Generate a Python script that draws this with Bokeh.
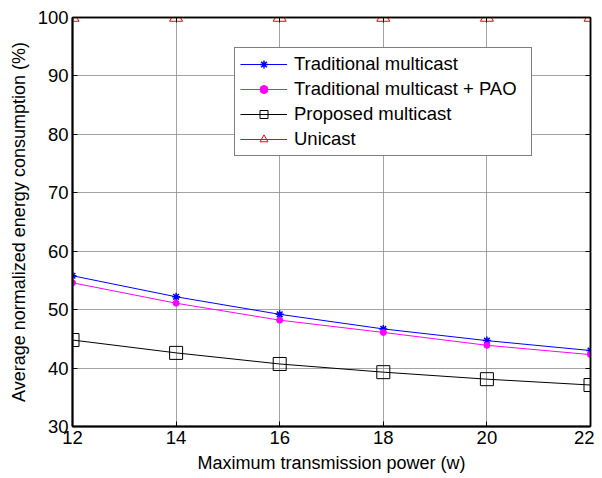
from bokeh.plotting import figure
from bokeh.models import LinearAxis, Legend, LegendItem, Range1d, FixedTicker
from bokeh.embed import file_html
from bokeh.resources import INLINE

power = [12, 14, 16, 18, 20, 22]
traditional = [55.8, 52.2, 49.2, 46.7, 44.7, 43.0]
traditional_pao = [54.6, 51.1, 48.2, 46.1, 43.9, 42.3]
proposed = [44.8, 42.6, 40.7, 39.3, 38.1, 37.1]
unicast = [100, 100, 100, 100, 100, 100]
x_ticks = [12, 14, 16, 18, 20, 22]
y_ticks = [30, 40, 50, 60, 70, 80, 90, 100]

FONT = "Liberation Sans"

p = figure(width=594, height=475, output_backend="svg", toolbar_location=None,
           x_range=Range1d(12, 22), y_range=Range1d(30, 100),
           min_border_left=72, min_border_right=4, min_border_top=17, min_border_bottom=45)
p.outline_line_color = "black"
p.outline_line_width = 1.5
p.background_fill_color = "white"
p.border_fill_color = "white"

for ax in (p.xaxis[0], p.yaxis[0]):
    ax.major_label_text_font = FONT
    ax.major_label_text_font_size = "18.5px"
    ax.major_label_text_color = "black"
    ax.axis_label_text_font = FONT
    ax.axis_label_text_font_size = "18px"
    ax.axis_label_text_font_style = "normal"
    ax.axis_label_text_color = "black"
    ax.major_tick_in = 5
    ax.major_tick_out = 0
    ax.minor_tick_line_color = None
    ax.axis_line_width = 2
    ax.major_tick_line_width = 1
p.xaxis[0].ticker = FixedTicker(ticks=x_ticks)
p.yaxis[0].ticker = FixedTicker(ticks=y_ticks)
p.xaxis[0].axis_label = "Maximum transmission power (w)"
p.yaxis[0].axis_label = "Average normalized energy consumption (%)"
p.xaxis[0].axis_label_standoff = 6
p.yaxis[0].axis_label_standoff = 6
p.xaxis[0].major_label_standoff = 4
p.yaxis[0].major_label_standoff = 4

right = LinearAxis(ticker=FixedTicker(ticks=y_ticks),
                   major_label_overrides={t: "" for t in y_ticks},
                   major_tick_in=5, major_tick_out=0, minor_tick_line_color=None,
                   axis_line_width=1.5)
top = LinearAxis(ticker=FixedTicker(ticks=x_ticks),
                 major_label_overrides={t: "" for t in x_ticks},
                 major_tick_in=5, major_tick_out=0, minor_tick_line_color=None,
                 axis_line_width=1.5)
p.add_layout(right, "right")
p.add_layout(top, "above")

p.grid.grid_line_color = "#8c8c8c"
p.grid.grid_line_alpha = 0.8
p.xgrid.ticker = FixedTicker(ticks=x_ticks)
p.ygrid.ticker = FixedTicker(ticks=y_ticks)

l1 = p.line(power, traditional, line_color="blue", line_width=1)
m1 = p.scatter(power, traditional, marker="asterisk", size=8, line_color="blue", line_width=1.5)
l2 = p.line(power, traditional_pao, line_color="magenta", line_width=1)
m2 = p.scatter(power, traditional_pao, marker="circle", size=6, fill_color="magenta", line_color="magenta")
l3 = p.line(power, proposed, line_color="black", line_width=1)
m3 = p.scatter(power, proposed, marker="square", size=13, fill_color=None, line_color="black", line_width=1)
l4 = p.line(power, unicast, line_color="red", line_width=1)
m4 = p.scatter(power, unicast, marker="triangle", size=13, fill_color=None, line_color="red", line_width=1)

legend = Legend(items=[
    LegendItem(label="Traditional multicast", renderers=[l1, m1]),
    LegendItem(label="Traditional multicast + PAO", renderers=[l2, m2]),
    LegendItem(label="Proposed multicast", renderers=[l3, m3]),
    LegendItem(label="Unicast", renderers=[l4, m4]),
], location=(162, 270))
legend.label_text_font = FONT
legend.label_text_font_size = "18.5px"
legend.label_text_color = "black"
legend.glyph_width = 47
legend.glyph_height = 20
legend.label_height = 20
legend.label_width = 232
legend.spacing = 3
legend.padding = 5
legend.margin = 0
legend.label_standoff = 7
legend.border_line_color = "black"
legend.border_line_width = 1.5
legend.background_fill_alpha = 1
p.add_layout(legend, "center")

open("out.html", "w").write(file_html(p, INLINE))
